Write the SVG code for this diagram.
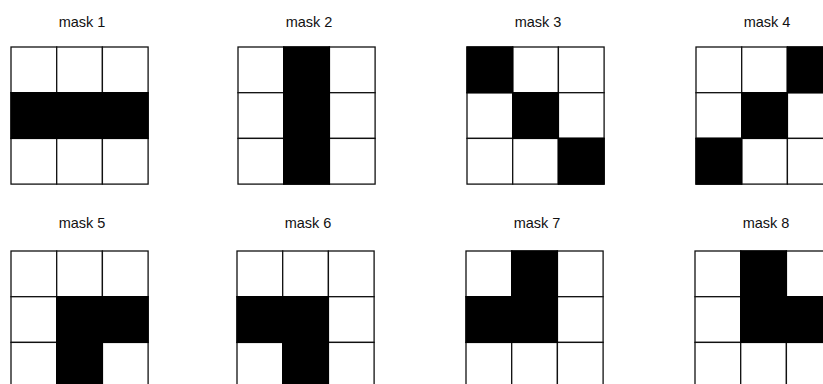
<svg xmlns="http://www.w3.org/2000/svg" width="823" height="384" viewBox="0 0 823 384">
<style>
.t{font-family:"Liberation Sans",Arial,sans-serif;font-size:14.5px;fill:#111;text-anchor:middle}
.w{fill:#fff;stroke:#111;stroke-width:1.3}
.b{fill:#000;stroke:#000;stroke-width:1.3}
</style>
<defs>
<g id="grid">
<rect class="w" x="0" y="0" width="45.7" height="45.7"/><rect class="w" x="45.7" y="0" width="45.7" height="45.7"/><rect class="w" x="91.4" y="0" width="45.7" height="45.7"/>
<rect class="w" x="0" y="45.7" width="45.7" height="45.7"/><rect class="w" x="45.7" y="45.7" width="45.7" height="45.7"/><rect class="w" x="91.4" y="45.7" width="45.7" height="45.7"/>
<rect class="w" x="0" y="91.4" width="45.7" height="45.7"/><rect class="w" x="45.7" y="91.4" width="45.7" height="45.7"/><rect class="w" x="91.4" y="91.4" width="45.7" height="45.7"/>
</g>
</defs>
<rect width="823" height="384" fill="#fff"/>
<g id="mask1" transform="translate(11,47)">
<text class="t" x="71" y="-20">mask 1</text>
<use href="#grid"/>
<rect class="b" x="0" y="45.7" width="137.1" height="45.7"/>
</g>
<g id="mask2" transform="translate(238,47)">
<text class="t" x="71" y="-20">mask 2</text>
<use href="#grid"/>
<rect class="b" x="45.7" y="0" width="45.7" height="137.1"/>
</g>
<g id="mask3" transform="translate(467,47)">
<text class="t" x="71" y="-20">mask 3</text>
<use href="#grid"/>
<rect class="b" x="0" y="0" width="45.7" height="45.7"/>
<rect class="b" x="45.7" y="45.7" width="45.7" height="45.7"/>
<rect class="b" x="91.4" y="91.4" width="45.7" height="45.7"/>
</g>
<g id="mask4" transform="translate(696,47)">
<text class="t" x="71" y="-20">mask 4</text>
<use href="#grid"/>
<rect class="b" x="91.4" y="0" width="45.7" height="45.7"/>
<rect class="b" x="45.7" y="45.7" width="45.7" height="45.7"/>
<rect class="b" x="0" y="91.4" width="45.7" height="45.7"/>
</g>
<g id="mask5" transform="translate(11,251)">
<text class="t" x="71" y="-23">mask 5</text>
<use href="#grid"/>
<rect class="b" x="45.7" y="45.7" width="91.4" height="45.7"/>
<rect class="b" x="45.7" y="91.4" width="45.7" height="45.7"/>
</g>
<g id="mask6" transform="translate(237,251)">
<text class="t" x="71" y="-23">mask 6</text>
<use href="#grid"/>
<rect class="b" x="0" y="45.7" width="91.4" height="45.7"/>
<rect class="b" x="45.7" y="91.4" width="45.7" height="45.7"/>
</g>
<g id="mask7" transform="translate(466,251)">
<text class="t" x="71" y="-23">mask 7</text>
<use href="#grid"/>
<rect class="b" x="45.7" y="0" width="45.7" height="45.7"/>
<rect class="b" x="0" y="45.7" width="91.4" height="45.7"/>
</g>
<g id="mask8" transform="translate(695,251)">
<text class="t" x="71" y="-23">mask 8</text>
<use href="#grid"/>
<rect class="b" x="45.7" y="0" width="45.7" height="45.7"/>
<rect class="b" x="45.7" y="45.7" width="91.4" height="45.7"/>
</g>
<g id="connectors"/>
</svg>
